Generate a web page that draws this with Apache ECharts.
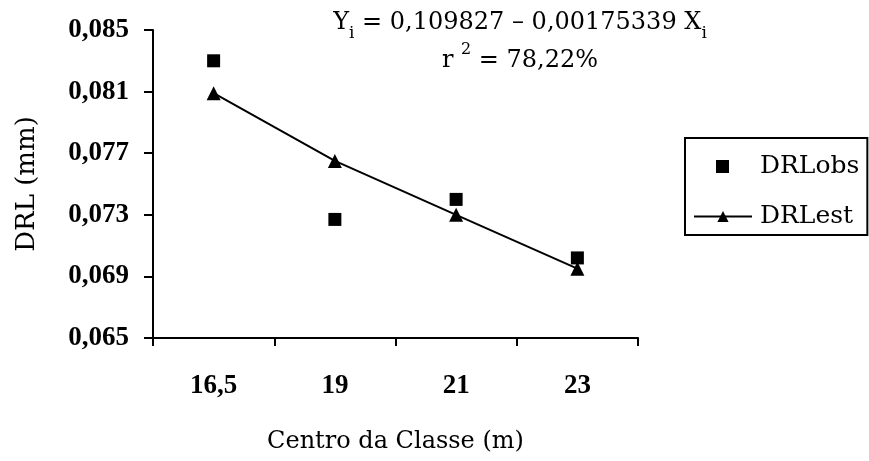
<!DOCTYPE html>
<html><head><meta charset="utf-8">
<script src="https://cdn.jsdelivr.net/npm/echarts@6/dist/echarts.min.js"></script>
<style>html,body{margin:0;padding:0;background:#fff}#c{width:869px;height:461px}</style>
</head><body><div id="c"></div>
<script>
const categories = ['16,5', '19', '21', '23'];
const drlObs = [0.0830, 0.0727, 0.0740, 0.0702];
const drlEst = [0.0809, 0.0765, 0.0730, 0.0695];
const yTicks = { min: 0.065, max: 0.085, step: 0.004 };

const FONT = '"DejaVu Serif", "Liberation Serif", serif';
const NUMFONT = '"Liberation Serif", "DejaVu Serif", serif';
const chart = echarts.init(document.getElementById('c'));
chart.setOption({
  animation: false,
  backgroundColor: '#fff',
  textStyle: { fontFamily: FONT, color: '#000' },
  title: [{
    text: '{n|Y}{s|i}{n| = 0,109827 – 0,00175339 X}{s|i}\n{n|r }{p|2}{n| = 78,22%}',
    left: 515, top: -1, textAlign: 'center',
    textStyle: {
      align: 'center', fontWeight: 'normal',
      rich: {
        n: { fontFamily: FONT, fontSize: 24, color: '#000', lineHeight: 38, fontWeight: 'normal' },
        s: { fontFamily: FONT, fontSize: 17, color: '#000', lineHeight: 38, verticalAlign: 'bottom', padding: [12, 0, 0, 0] },
        p: { fontFamily: FONT, fontSize: 16, color: '#000', lineHeight: 38, verticalAlign: 'top', padding: [0, 0, 12, 0] }
      }
    }
  }],
  legend: {
    orient: 'vertical', left: 685, top: 138,
    padding: [16, 8, 6, 8], itemGap: 25,
    itemWidth: 58, itemHeight: 14,
    borderColor: '#000', borderWidth: 2, borderRadius: 0,
    textStyle: { fontFamily: FONT, fontSize: 25, color: '#000', padding: [0, 0, 0, 3] },
    data: [
      { name: 'DRLobs', icon: 'path://M0,0 M58,14 M22,0.5 L35,0.5 L35,13.5 L22,13.5 Z' },
      { name: 'DRLest' }
    ]
  },
  grid: { left: 153, right: 231, top: 30, bottom: 123, containLabel: false },
  xAxis: {
    type: 'category', data: categories, boundaryGap: true,
    axisLine: { lineStyle: { color: '#000', width: 2 } },
    axisTick: { show: true, length: 8, lineStyle: { color: '#000', width: 2 } },
    axisLabel: { fontFamily: NUMFONT, fontWeight: 'bold', fontSize: 27, color: '#000', margin: 35 },
    name: 'Centro da Classe (m)', nameLocation: 'middle', nameGap: 92,
    nameTextStyle: { fontFamily: FONT, fontSize: 24, color: '#000' }
  },
  yAxis: {
    type: 'value', min: yTicks.min, max: yTicks.max, interval: yTicks.step,
    axisLine: { show: true, lineStyle: { color: '#000', width: 2 } },
    axisTick: { show: true, length: 9, lineStyle: { color: '#000', width: 2 } },
    splitLine: { show: false },
    axisLabel: { fontFamily: NUMFONT, fontWeight: 'bold', fontSize: 27, color: '#000', margin: 24,
      formatter: v => v.toFixed(3).replace('.', ',') },
    name: 'DRL (mm)', nameLocation: 'middle', nameGap: 113, nameRotate: 90,
    nameTextStyle: { fontFamily: FONT, fontSize: 26, color: '#000' }
  },
  series: [
    { name: 'DRLobs', type: 'scatter', data: drlObs, symbol: 'rect', symbolSize: 13,
      itemStyle: { color: '#000', opacity: 1 } },
    { name: 'DRLest', type: 'line', data: drlEst, symbol: 'triangle', symbolSize: 14,
      showSymbol: true,
      lineStyle: { color: '#000', width: 2 }, itemStyle: { color: '#000', opacity: 1 } }
  ]
});
</script></body></html>
